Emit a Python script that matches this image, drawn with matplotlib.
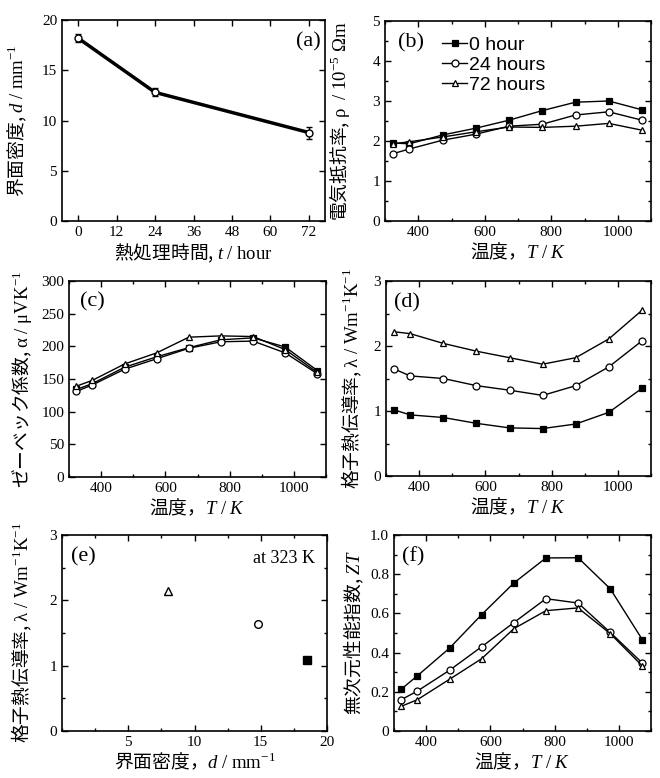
import matplotlib
matplotlib.use("Agg")
import matplotlib.pyplot as plt
from matplotlib.ticker import MultipleLocator

# Heat treatment time and interface density (panel a)
HOURS = [0, 24, 72]
DENSITY = [18.2, 12.8, 8.8]
DENSITY_ERR = [0.4, 0.4, 0.6]

# Measurement temperatures (K)
TEMPS = [323, 373, 473, 573, 673, 773, 873, 973, 1073]

# Electrical resistivity, 10^-5 Ohm m (panel b)
RHO_0H = [1.95, 1.93, 2.15, 2.32, 2.52, 2.76, 2.97, 3.00, 2.78]
RHO_24H = [1.68, 1.80, 2.02, 2.17, 2.37, 2.42, 2.65, 2.73, 2.52]
RHO_72H = [1.93, 1.98, 2.10, 2.23, 2.35, 2.34, 2.37, 2.44, 2.27]

# Seebeck coefficient, uV/K (panel c)
SEEBECK_0H = [134, 143, 168, 184, 198, 210, 213, 199, 163]
SEEBECK_24H = [131, 141, 165, 181, 197, 207, 208, 190, 158]
SEEBECK_72H = [139, 148, 173, 190, 214, 216, 215, 195, 160]

# Lattice thermal conductivity, W/mK (panel d)
KAPPA_0H = [1.02, 0.94, 0.90, 0.81, 0.74, 0.73, 0.80, 0.98, 1.35]
KAPPA_24H = [1.65, 1.54, 1.50, 1.39, 1.32, 1.24, 1.39, 1.68, 2.08]
KAPPA_72H = [2.22, 2.19, 2.04, 1.92, 1.82, 1.72, 1.82, 2.11, 2.55]

# Lattice thermal conductivity vs interface density at 323 K (panel e)
D_323 = [18.5, 14.8, 8.0]
KAPPA_323 = [1.08, 1.64, 2.14]

# Figure of merit ZT (panel f)
ZT_0H = [0.214, 0.282, 0.423, 0.594, 0.755, 0.883, 0.884, 0.726, 0.466]
ZT_24H = [0.160, 0.204, 0.310, 0.430, 0.553, 0.675, 0.653, 0.503, 0.347]
ZT_72H = [0.126, 0.160, 0.264, 0.369, 0.522, 0.614, 0.628, 0.497, 0.332]

LABELS = ['0 hour', '24 hours', '72 hours']
MARKERS = ['s', 'o', '^']
FACES = ['black', 'white', 'white']

JP = 'Noto Sans CJK JP'
T_LABEL = r'温度，$T\ /\ K$'
LSIZE = 13.5


def box(rect):
    # rect given in pixels: left, top, right, bottom
    l, t, r, b = rect
    return [l / 660, 1 - b / 778, (r - l) / 660, (b - t) / 778]


def style(ax, xminor=None, yminor=None):
    ax.tick_params(which='both', direction='in', top=True, right=True,
                   labelsize=11, width=1)
    ax.tick_params(which='major', length=4)
    ax.tick_params(which='minor', length=2.5)
    if xminor:
        ax.xaxis.set_minor_locator(MultipleLocator(xminor))
    if yminor:
        ax.yaxis.set_minor_locator(MultipleLocator(yminor))
    for s in ax.spines.values():
        s.set_linewidth(1.2)


def draw_series(ax, series):
    for vals, m, fc, lab in zip(series, MARKERS, FACES, LABELS):
        ax.plot(TEMPS, vals, color='black', lw=1, marker=m, ms=5,
                mfc=fc, mec='black', mew=0.9, label=lab)


def temp_axis(ax):
    ax.set_xlim(300, 1100)
    ax.xaxis.set_major_locator(MultipleLocator(200))
    ax.set_xlabel(T_LABEL, fontfamily=JP, fontsize=LSIZE, labelpad=2)


def ylab(ax, text, x):
    # x is where the right edge of the rotated label sits (axes coords)
    ax.set_ylabel(text, fontfamily=JP, fontsize=LSIZE)
    ax.yaxis.set_label_coords(x, 0.5)


def tag(ax, text, x, y):
    ax.text(x, y, text, transform=ax.transAxes, fontsize=16,
            ha='center', va='center')


def main():
    plt.rcParams['font.family'] = ['Liberation Serif', JP]
    plt.rcParams['mathtext.fontset'] = 'custom'
    plt.rcParams['mathtext.rm'] = 'Liberation Serif'
    plt.rcParams['mathtext.it'] = 'Liberation Serif:italic'
    plt.rcParams['mathtext.bf'] = 'Liberation Serif:bold'

    fig = plt.figure(figsize=(6.6, 7.78), dpi=100)

    # (a) interface density vs heat treatment time
    ax = fig.add_axes(box((62, 20, 325, 221)))
    ax.errorbar(HOURS, DENSITY, yerr=DENSITY_ERR, color='black', lw=2.5,
                marker='o', ms=5, mfc='white', mec='black', mew=1,
                ecolor='black', elinewidth=1, capsize=2.5, capthick=1)
    ax.set_xlim(-5, 77)
    ax.set_ylim(0, 20)
    ax.set_xticks(range(0, 73, 12))
    ax.set_yticks(range(0, 21, 5))
    style(ax)
    ax.set_xlabel(r'熱処理時間, $t\ /\ \mathrm{hour}$', fontfamily=JP,
                  fontsize=LSIZE, labelpad=2)
    ylab(ax, r'界面密度, $d\ /\ \mathrm{mm^{-1}}$', -0.125)
    tag(ax, '(a)', 0.935, 0.89)

    # (b) electrical resistivity
    ax = fig.add_axes(box((385, 21, 651, 221)))
    draw_series(ax, [RHO_0H, RHO_24H, RHO_72H])
    temp_axis(ax)
    ax.set_ylim(0, 5)
    style(ax, xminor=100, yminor=0.5)
    ylab(ax, r'電気抵抗率, $\mathrm{\rho\ \ /\ 10^{-5}\ \Omega m}$', -0.124)
    tag(ax, '(b)', 0.098, 0.89)
    ax.legend(loc='upper left', bbox_to_anchor=(0.215, 0.925), frameon=False,
              prop={'family': 'Liberation Sans', 'size': 14},
              handlelength=1.3, handletextpad=0.1, labelspacing=0.12,
              borderpad=0, borderaxespad=0)

    # (c) Seebeck coefficient
    ax = fig.add_axes(box((69, 281, 326, 477)))
    draw_series(ax, [SEEBECK_0H, SEEBECK_24H, SEEBECK_72H])
    temp_axis(ax)
    ax.set_ylim(0, 300)
    style(ax, xminor=100)
    ylab(ax, r'ゼーベック係数, $\mathrm{\alpha\ /\ \mu VK^{-1}}$', -0.136)
    tag(ax, '(c)', 0.09, 0.893)

    # (d) lattice thermal conductivity
    ax = fig.add_axes(box((386, 281, 651, 476)))
    draw_series(ax, [KAPPA_0H, KAPPA_24H, KAPPA_72H])
    temp_axis(ax)
    ax.set_ylim(0, 3)
    ax.yaxis.set_major_locator(MultipleLocator(1))
    style(ax, xminor=100, yminor=0.5)
    ylab(ax, r'格子熱伝導率, $\mathrm{\lambda\ /\ Wm^{-1}K^{-1}}$', -0.083)
    tag(ax, '(d)', 0.08, 0.887)

    # (e) lattice thermal conductivity vs interface density
    ax = fig.add_axes(box((62, 535, 327, 731)))
    for x, y, m, fc in zip(D_323, KAPPA_323, MARKERS, FACES):
        ax.plot(x, y, ls='none', marker=m, ms=5.5, mfc=fc, mec='black',
                mew=1)
    ax.set_xlim(0, 20)
    ax.set_ylim(0, 3)
    ax.set_xticks([5, 10, 15, 20])
    ax.set_yticks([0, 1, 2, 3])
    style(ax, xminor=2.5, yminor=0.5)
    ax.set_xlabel(r'界面密度，$d\ /\ \mathrm{mm^{-1}}$', fontfamily=JP,
                  fontsize=LSIZE, labelpad=2)
    ylab(ax, r'格子熱伝導率, $\mathrm{\lambda\ /\ Wm^{-1}K^{-1}}$', -0.106)
    tag(ax, '(e)', 0.08, 0.888)
    ax.text(0.838, 0.878, 'at 323 K', transform=ax.transAxes, fontsize=13,
            ha='center', va='center')

    # (f) dimensionless figure of merit
    ax = fig.add_axes(box((394, 535, 651, 731)))
    draw_series(ax, [ZT_0H, ZT_24H, ZT_72H])
    temp_axis(ax)
    ax.set_ylim(0, 1.0)
    ax.yaxis.set_major_locator(MultipleLocator(0.2))
    ax.yaxis.set_major_formatter(lambda v, p: '0' if v == 0 else f'{v:.1f}')
    style(ax, xminor=100, yminor=0.1)
    ylab(ax, r'無次元性能指数, $ZT$', -0.109)
    tag(ax, '(f)', 0.074, 0.888)

    fig.savefig('out.png', dpi=100, facecolor='white')


main()
